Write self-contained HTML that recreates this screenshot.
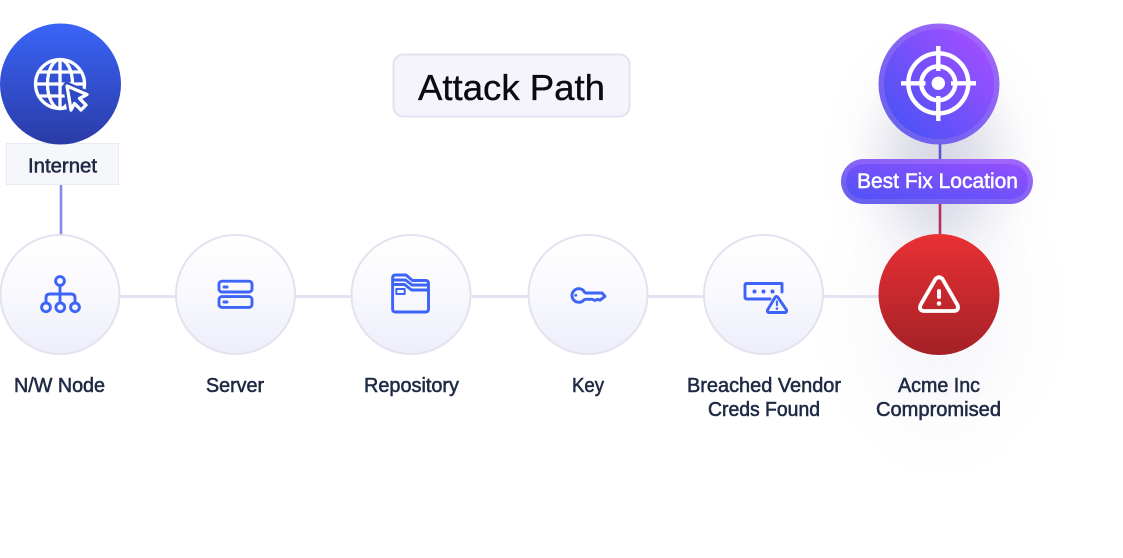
<!DOCTYPE html>
<html><head><meta charset="utf-8"><title>Attack Path</title>
<style>
html,body{margin:0;padding:0;background:#fff;width:1123px;height:558px;overflow:hidden}
svg{display:block}
text{font-family:"Liberation Sans",sans-serif}
.l{font-size:20px;fill:#1f2a44;stroke:#1f2a44;stroke-width:.55px;text-anchor:middle}
.i{fill:none;stroke:#3d63f7;stroke-width:2.9;stroke-linecap:round;stroke-linejoin:round}
</style></head><body>
<svg width="1123" height="558" viewBox="0 0 1123 558" xmlns="http://www.w3.org/2000/svg">
<defs>
<linearGradient id="nd" x1="0" y1="0" x2="0" y2="1"><stop offset="0" stop-color="#fff"/><stop offset=".35" stop-color="#fbfbfe"/><stop offset="1" stop-color="#eeeefb"/></linearGradient>
<linearGradient id="bl" x1="0" y1="0" x2="0" y2="1"><stop offset="0" stop-color="#3a64f8"/><stop offset="1" stop-color="#2a3ba6"/></linearGradient>
<linearGradient id="rd" x1="0" y1="0" x2="0" y2="1"><stop offset="0" stop-color="#ea3035"/><stop offset="1" stop-color="#a32126"/></linearGradient>
<linearGradient id="pu" x1="0.15" y1="0.85" x2="0.85" y2="0.15"><stop offset="0" stop-color="#5052f6"/><stop offset="1" stop-color="#9c4fff"/></linearGradient>
<linearGradient id="pb" x1="0.15" y1="0.9" x2="0.85" y2="0.1"><stop offset="0" stop-color="#6a62ee"/><stop offset="1" stop-color="#a066fa"/></linearGradient>
<linearGradient id="pp" x1="0" y1="1" x2="1" y2="0"><stop offset="0" stop-color="#5052f6"/><stop offset="1" stop-color="#9450fe"/></linearGradient>
<filter id="bk" x="-60%" y="-60%" width="220%" height="220%"><feGaussianBlur stdDeviation="26"/></filter>
<filter id="bk2" x="-60%" y="-60%" width="220%" height="220%"><feGaussianBlur stdDeviation="34"/></filter>
</defs>
<rect width="1123" height="558" fill="#fff"/>

<!-- glow -->
<ellipse cx="940" cy="310" rx="70" ry="115" fill="#eeeef6" opacity=".5" filter="url(#bk2)"/>
<ellipse cx="940" cy="160" rx="58" ry="80" fill="#bcbcd2" opacity=".55" filter="url(#bk)"/>

<!-- connectors -->
<line x1="118" y1="296.5" x2="880" y2="296.5" stroke="#e3e3f1" stroke-width="3"/>
<line x1="61" y1="185" x2="61" y2="236" stroke="#858be2" stroke-width="2.6"/>
<line x1="940" y1="143" x2="940" y2="161" stroke="#5656d8" stroke-width="2.6"/>
<line x1="940" y1="203" x2="940" y2="236" stroke="#b3305f" stroke-width="2.6"/>

<!-- title -->
<rect x="393.5" y="54.5" width="236" height="62" rx="10" fill="#f5f4fc" stroke="#e3e2f0" stroke-width="2"/>
<text x="511.5" y="100" font-size="36" text-anchor="middle" fill="#0a0a0f" stroke="#0a0a0f" stroke-width=".35" textLength="187" lengthAdjust="spacingAndGlyphs">Attack Path</text>

<!-- internet -->
<rect x="6.5" y="143.5" width="112" height="41" fill="#f6f7fa" stroke="#eaeaf3" stroke-width="1"/>
<circle cx="60.5" cy="84" r="60.5" fill="url(#bl)"/>
<g fill="none" stroke="#fff" stroke-width="3.3">
<circle cx="60" cy="84" r="24.5"/>
<ellipse cx="60" cy="84" rx="12.5" ry="24.5"/>
<line x1="60" y1="59.5" x2="60" y2="108.5"/>
<line x1="38" y1="72" x2="82" y2="72"/>
<line x1="35.5" y1="84" x2="84.5" y2="84"/>
<line x1="38" y1="96" x2="82" y2="96"/>
</g>
<path d="M67 86 L87 94.5 L79.5 98.5 L86 105 L81 110 L74.5 103.5 L71 110 Z" fill="#2f4bc2" stroke="#2f4bc2" stroke-width="8" stroke-linejoin="round"/>
<path d="M67 86 L87 94.5 L79.5 98.5 L86 105 L81 110 L74.5 103.5 L71 110 Z" fill="#2f4bc2" stroke="#fff" stroke-width="3.3" stroke-linejoin="round"/>
<text class="l" x="62.5" y="172.5" textLength="69" lengthAdjust="spacingAndGlyphs">Internet</text>

<!-- target -->
<circle cx="939" cy="84" r="60.5" fill="url(#pb)"/>
<circle cx="939" cy="84" r="55" fill="url(#pu)"/>
<g fill="none" stroke="#fff" stroke-width="4.4">
<circle cx="938.3" cy="83.3" r="30"/>
<circle cx="938.3" cy="83.3" r="17"/>
<path d="M901 83.3H925.5M951 83.3H976M938.3 46V71M938.3 96V121"/>
</g>
<circle cx="938.3" cy="83.3" r="6.7" fill="#fff"/>

<!-- best fix -->
<rect x="841" y="159" width="192" height="45" rx="22.5" fill="url(#pb)"/>
<rect x="846" y="164" width="182" height="35" rx="17.5" fill="url(#pp)"/>
<text x="937.5" y="188" font-size="21" text-anchor="middle" fill="#fff" stroke="#fff" stroke-width=".5" textLength="161" lengthAdjust="spacingAndGlyphs">Best Fix Location</text>

<!-- nodes -->
<g fill="url(#nd)" stroke="#e2e2f0" stroke-width="2">
<circle cx="60" cy="294.5" r="59.5"/>
<circle cx="235.5" cy="294.5" r="59.5"/>
<circle cx="411" cy="294.5" r="59.5"/>
<circle cx="588" cy="294.5" r="59.5"/>
<circle cx="763.5" cy="294.5" r="59.5"/>
</g>
<circle cx="939" cy="294.5" r="60.5" fill="url(#rd)"/>

<!-- network icon -->
<g class="i">
<circle cx="60" cy="281" r="4.4"/>
<circle cx="46" cy="307.3" r="4.4"/>
<circle cx="60.3" cy="307.3" r="4.4"/>
<circle cx="75" cy="307.3" r="4.4"/>
<path d="M60 285.6V302.7M46 302.7V298Q46 294 50 294H71Q75 294 75 298V302.7"/>
</g>

<!-- server icon -->
<g class="i">
<rect x="219" y="281.2" width="33" height="10.8" rx="3"/>
<rect x="219" y="296.6" width="33" height="10.8" rx="3"/>
<path d="M224 287H227M224 302H227"/>
</g>

<!-- repo icon -->
<g class="i">
<path d="M392.6 278Q392.6 275 395.6 275H406L412.5 280.5H425.5Q428.5 280.5 428.5 283.5V309Q428.5 312 425.5 312H395.6Q392.6 312 392.6 309Z"/>
<path d="M393 280H405.5L412 285H428M393 284.5H404.5L411.5 290H428"/>
<rect x="396.3" y="289" width="8.4" height="5" stroke-width="2"/>
</g>

<!-- key icon -->
<g class="i">
<path d="M583.5 290.6A6.8 6.8 0 1 0 583.5 300.4Q584.5 299.3 586 299.3H592L595 300.4L597.5 299.3L600 300.2L605 296.3L602 293H586Q584.5 293 583.5 290.6Z"/>
</g>
<circle cx="575.8" cy="295.3" r="1.4" fill="#3d63f7"/>

<!-- breached icon -->
<g class="i">
<path d="M770 299H747Q745 299 745 297V285Q745 283.5 747 283.5H782V292"/>
<path d="M775 297.5Q776.5 295.5 778 297.5L786.5 310Q787 312.5 785 312.5H769Q767 312.5 767.5 310Z"/>
</g>
<g fill="#3d63f7">
<circle cx="754.5" cy="291.5" r="2"/><circle cx="763.5" cy="291.5" r="2"/><circle cx="772.5" cy="291.5" r="2"/>
<rect x="775.9" y="300.5" width="2" height="5.5"/><circle cx="776.9" cy="308.6" r="1.3"/>
</g>

<!-- alert icon -->
<path d="M935.5 279Q939 275.5 942.5 279L957.5 305Q959.5 310.5 954 311H924Q918.5 310.5 920.5 305Z" fill="none" stroke="#fff" stroke-width="3.8" stroke-linejoin="round"/>
<rect x="937" y="289" width="4" height="10" rx="2" fill="#fff"/>
<circle cx="939" cy="303.5" r="2.3" fill="#fff"/>

<!-- labels -->
<text class="l" x="59.5" y="392" textLength="91" lengthAdjust="spacingAndGlyphs">N/W Node</text>
<text class="l" x="235" y="392" textLength="58" lengthAdjust="spacingAndGlyphs">Server</text>
<text class="l" x="411.5" y="392" textLength="95" lengthAdjust="spacingAndGlyphs">Repository</text>
<text class="l" x="588" y="392" textLength="32" lengthAdjust="spacingAndGlyphs">Key</text>
<text class="l" x="764" y="392" textLength="154" lengthAdjust="spacingAndGlyphs">Breached Vendor</text>
<text class="l" x="764" y="416" textLength="112" lengthAdjust="spacingAndGlyphs">Creds Found</text>
<text class="l" x="939" y="392" textLength="82" lengthAdjust="spacingAndGlyphs">Acme Inc</text>
<text class="l" x="938.5" y="416" textLength="125" lengthAdjust="spacingAndGlyphs">Compromised</text>
</svg>
</body></html>
